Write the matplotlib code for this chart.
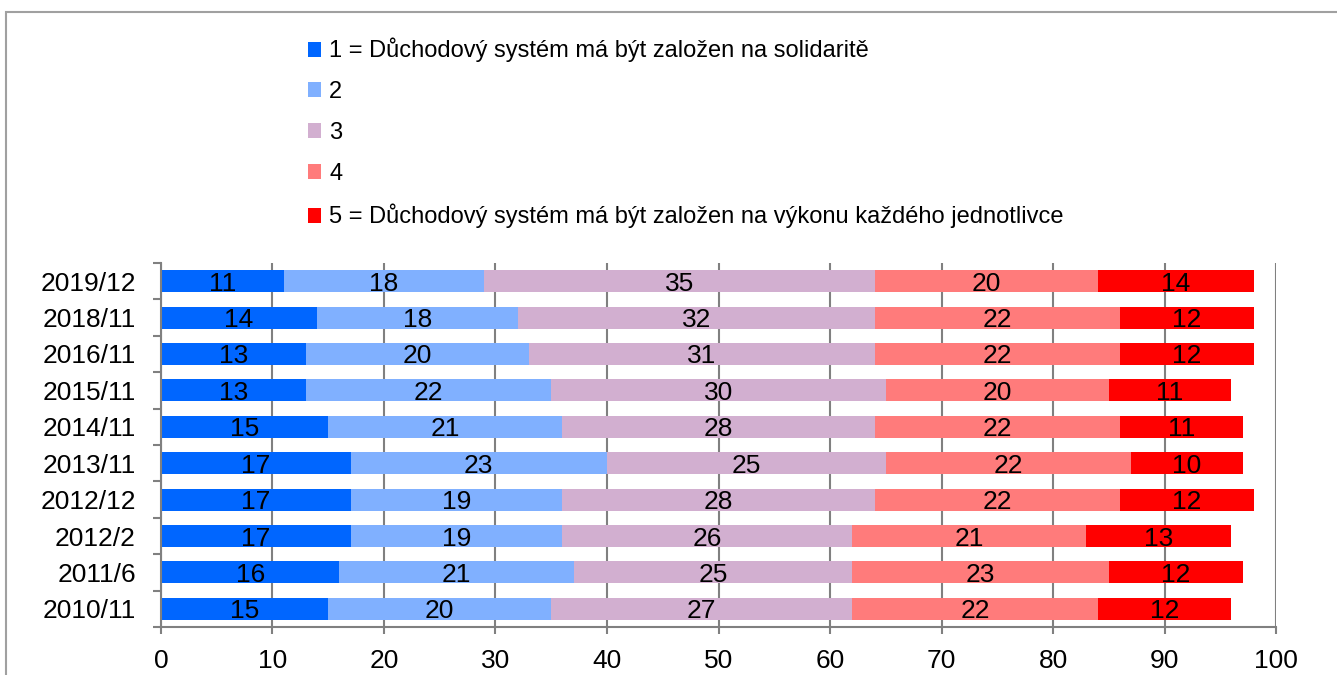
import numpy as np
import matplotlib
matplotlib.use("Agg")
import matplotlib.pyplot as plt
from matplotlib.patches import Rectangle

plt.rcParams['font.family'] = ['Liberation Sans', 'DejaVu Sans']

periods = ['2019/12', '2018/11', '2016/11', '2015/11', '2014/11',
           '2013/11', '2012/12', '2012/2', '2011/6', '2010/11']
s1 = [11, 14, 13, 13, 15, 17, 17, 17, 16, 15]
s2 = [18, 18, 20, 22, 21, 23, 19, 19, 21, 20]
s3 = [35, 32, 31, 30, 28, 25, 28, 26, 25, 27]
s4 = [20, 22, 22, 20, 22, 22, 22, 21, 23, 22]
s5 = [14, 12, 12, 11, 11, 10, 12, 13, 12, 12]
labels = ['1 = Důchodový systém má být založen na solidaritě', '2', '3', '4',
          '5 = Důchodový systém má být založen na výkonu každého jednotlivce']
colors = ['#0066FF', '#80B0FF', '#D2AFD0', '#FF7B7B', '#FF0000']

fig = plt.figure(figsize=(13.37, 6.75), dpi=100)
ax = fig.add_axes([0.1204, 0.0711, 0.834, 0.5393])

y = np.arange(len(periods))
left = np.zeros(len(periods))
handles = []
for vals, col, lab in zip([s1, s2, s3, s4, s5], colors, labels):
    vals = np.array(vals)
    bars = ax.barh(y, vals, left=left, height=0.6, color=col, label=lab, zorder=2)
    txts = ax.bar_label(bars, labels=[str(v) for v in vals], label_type='center',
                        fontsize=19, color='black')
    for t in txts:
        t.set_va('center_baseline')
    handles.append(bars)
    left += vals

ax.set_xlim(0, 100)
ax.set_ylim(len(periods) - 0.5, -0.5)
ax.set_xticks(np.arange(0, 101, 10))
ax.set_yticks(y)
ax.set_yticklabels(periods)
ax.set_yticks(np.arange(-0.5, len(periods), 1), minor=True)
ax.tick_params(axis='y', which='major', length=0, labelsize=19, pad=18)
ax.tick_params(axis='y', which='minor', length=6, color='#808080', width=1.5)
ax.tick_params(axis='x', length=5, color='#808080', width=1.5, labelsize=19, pad=11)
ax.grid(axis='x', color='#808080', linewidth=1.5, zorder=0)
for sp in ['top', 'right']:
    ax.spines[sp].set_visible(False)
for sp in ['left', 'bottom']:
    ax.spines[sp].set_color('#808080')
    ax.spines[sp].set_linewidth(1.5)

fig.legend(handles=handles, labels=labels, loc='upper left',
           bbox_to_anchor=(0.2236, 0.958), frameon=False, fontsize=17,
           handlelength=0.55, handleheight=0.6, handletextpad=0.33,
           labelspacing=0.80, borderaxespad=0)

fig.patches.append(Rectangle((0.0045, -0.1), 1.2, 1.082, transform=fig.transFigure,
                             fill=False, edgecolor='#A0A0A0', linewidth=1.5))

fig.savefig('out.png', dpi=100)
